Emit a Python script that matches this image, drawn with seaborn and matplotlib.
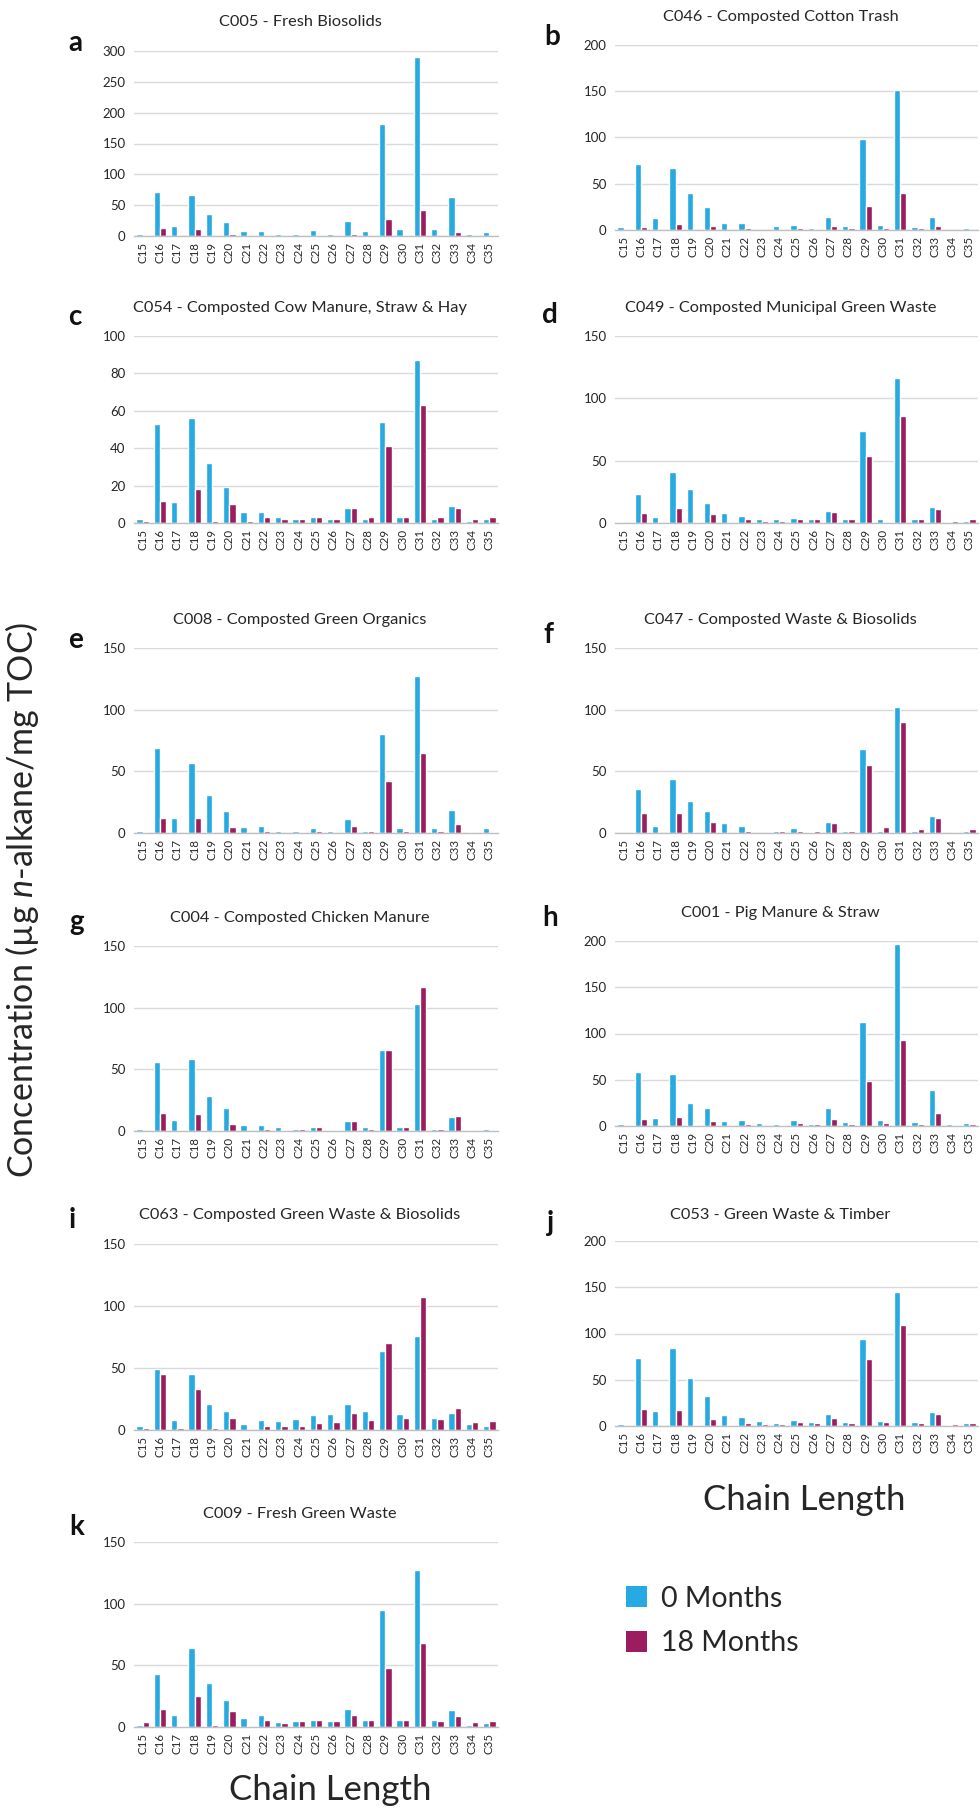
import matplotlib
matplotlib.use("Agg")
import matplotlib.pyplot as plt
import seaborn as sns
import pandas as pd
from matplotlib.patches import Patch

# ---------------- data ----------------
chains = [f"C{i}" for i in range(15, 36)]
periods = ["0 Months", "18 Months"]

a_0m = [4, 72, 16, 66, 35, 23, 8, 8, 4, 4, 9, 4, 25, 8, 182, 11, 290, 11, 63, 4, 6]
a_18m = [0, 13, 0, 11, 0, 3, 0, 0, 0, 0, 2, 0, 4, 0, 27, 2, 42, 0, 6, 0, 0]

b_0m = [3, 71, 13, 67, 40, 25, 8, 8, 0, 4, 5, 2, 14, 4, 98, 5, 151, 3, 14, 0, 2]
b_18m = [0, 3, 0, 7, 0, 4, 0, 2, 0, 0, 2, 0, 4, 2, 26, 2, 40, 2, 4, 0, 0]

c_0m = [2, 53, 11, 56, 32, 19, 6, 6, 3, 2, 3, 2, 8, 2, 54, 3, 87, 2, 9, 1, 2]
c_18m = [1, 12, 0, 18, 1, 10, 1, 3, 2, 2, 3, 2, 8, 3, 41, 3, 63, 3, 8, 2, 3]

d_0m = [1, 23, 5, 41, 27, 16, 8, 6, 3, 3, 4, 3, 10, 3, 74, 3, 116, 3, 13, 1, 2]
d_18m = [0, 8, 0, 12, 1, 7, 1, 3, 2, 2, 3, 3, 9, 3, 54, 1, 86, 3, 11, 2, 3]

e_0m = [2, 69, 12, 57, 31, 18, 5, 6, 2, 2, 4, 2, 11, 2, 80, 4, 127, 4, 19, 1, 4]
e_18m = [1, 12, 0, 12, 0, 5, 0, 2, 0, 1, 2, 0, 6, 2, 42, 2, 65, 2, 7, 1, 1]

f_0m = [0, 36, 6, 44, 26, 18, 8, 6, 0, 2, 4, 1, 9, 2, 68, 2, 102, 2, 14, 0, 2]
f_18m = [0, 16, 0, 16, 0, 9, 0, 2, 0, 2, 2, 2, 8, 2, 55, 5, 90, 3.5, 12, 1, 3]

g_0m = [2, 56, 9, 58, 28, 19, 5, 5, 3, 2, 3, 1, 8, 3, 66, 3, 103, 2, 11, 1, 2]
g_18m = [0, 15, 1, 14, 1, 6, 0, 2, 1, 2, 3, 1, 8, 2, 66, 3, 117, 2, 12, 1, 1]

h_0m = [2, 58, 9, 56, 25, 20, 5, 6, 3, 2, 6, 2, 20, 4, 112, 6, 197, 4, 39, 2, 3]
h_18m = [1, 8, 1, 10, 1, 5, 1, 2, 1, 1, 3, 2, 8, 2, 49, 3, 93, 2, 14, 1, 2]

i_0m = [3, 49, 8, 45, 21, 15, 4.5, 8, 7.5, 9, 12, 13, 21, 15, 64, 13, 76, 10, 14, 4.5, 3.5]
i_18m = [1.5, 45, 1.5, 33, 1.5, 10, 0, 3.5, 3, 3.5, 5.5, 6.5, 14, 8, 70, 10, 107, 9, 18, 6.5, 7]

j_0m = [2, 74, 16, 84, 52, 32, 12, 10, 5, 3, 6, 4, 13, 4, 94, 5, 145, 4, 15, 1, 3]
j_18m = [0, 18, 0, 17, 1, 8, 1, 3, 2, 2, 4, 3, 9, 3, 72, 4, 109, 3, 13, 2, 3]

k_0m = [2, 43, 10, 64, 36, 22, 7.5, 10, 4, 4.5, 6, 5, 15, 6, 95, 6, 127, 5.5, 14, 2, 3]
k_18m = [4, 15, 1, 25, 2, 13, 1, 5.5, 3, 4.5, 5.5, 5, 10, 5.5, 48, 5.5, 68, 5, 9, 4, 5]

titles = {
    "a": "C005 - Fresh Biosolids",
    "b": "C046 - Composted Cotton Trash",
    "c": "C054 - Composted Cow Manure, Straw & Hay",
    "d": "C049 - Composted Municipal Green Waste",
    "e": "C008 - Composted Green Organics",
    "f": "C047 - Composted Waste & Biosolids",
    "g": "C004 - Composted Chicken Manure",
    "h": "C001 - Pig Manure & Straw",
    "i": "C063 - Composted Green Waste & Biosolids",
    "j": "C053 - Green Waste & Timber",
    "k": "C009 - Fresh Green Waste",
}
series = {
    "a": (a_0m, a_18m), "b": (b_0m, b_18m), "c": (c_0m, c_18m), "d": (d_0m, d_18m),
    "e": (e_0m, e_18m), "f": (f_0m, f_18m), "g": (g_0m, g_18m), "h": (h_0m, h_18m),
    "i": (i_0m, i_18m), "j": (j_0m, j_18m), "k": (k_0m, k_18m),
}
y_max = {"a": 300, "b": 200, "c": 100, "d": 150, "e": 150, "f": 150,
         "g": 150, "h": 200, "i": 150, "j": 200, "k": 150}
y_step = {"a": 50, "b": 50, "c": 20, "d": 50, "e": 50, "f": 50,
          "g": 50, "h": 50, "i": 50, "j": 50, "k": 50}

# ---------------- layout (pixels) ----------------
W, H = 980, 1813
BLUE = "#27A9E1"
PURPLE = "#9B1D5F"
# (x_left, x_right, top, bottom, title_y, letter_x, letter_y)
layout = {
    "a": (134, 498, 51, 236, 22, 75, 43),
    "b": (615, 978, 45, 230, 17, 552, 37),
    "c": (134, 498, 336, 523, 308, 75, 317),
    "d": (615, 978, 336, 523, 308, 550, 315),
    "e": (134, 498, 648, 833, 620, 75, 640),
    "f": (615, 978, 648, 833, 620, 548, 635),
    "g": (134, 498, 946, 1131, 918, 77, 922),
    "h": (615, 978, 941, 1126, 913, 550, 918),
    "i": (134, 498, 1244, 1430, 1215, 72, 1220),
    "j": (615, 978, 1241, 1426, 1215, 550, 1223),
    "k": (134, 498, 1542, 1727, 1514, 77, 1527),
}

sns.set_style("white")
plt.rcParams["font.family"] = ["Lato", "DejaVu Sans"]
plt.rcParams["mathtext.fontset"] = "custom"
plt.rcParams["mathtext.it"] = "Lato:italic"
plt.rcParams["mathtext.rm"] = "Lato"

fig = plt.figure(figsize=(W / 100, H / 100), dpi=100)
TXT = "#262626"

for key, (xl, xr, top, bot, ty, lx, ly) in layout.items():
    v0, v18 = series[key]
    df = pd.DataFrame({
        "chain": chains * 2,
        "value": list(v0) + list(v18),
        "period": [periods[0]] * len(chains) + [periods[1]] * len(chains),
    })
    ax = fig.add_axes([xl / W, 1 - bot / H, (xr - xl) / W, (bot - top) / H])
    sns.barplot(data=df, x="chain", y="value", hue="period", hue_order=periods,
                palette=[BLUE, PURPLE], width=0.72, saturation=1, ax=ax,
                legend=False, errorbar=None)
    ymax = y_max[key]
    ax.set_ylim(0, ymax)
    ax.set_xlim(-0.5, len(chains) - 0.5)
    ticks = list(range(0, ymax + 1, y_step[key]))
    ax.set_yticks(ticks)
    ax.set_yticklabels([str(t) for t in ticks], fontsize=9.5, color=TXT)
    ax.yaxis.grid(True, color="#D9D9D9", linewidth=1)
    ax.set_axisbelow(True)
    for s in ["top", "right", "left"]:
        ax.spines[s].set_visible(False)
    ax.spines["bottom"].set_color("#BFBFBF")
    ax.spines["bottom"].set_linewidth(1)
    ax.tick_params(axis="both", length=0, pad=6)
    ax.tick_params(axis="x", pad=4)
    ax.set_xticks(range(len(chains)))
    ax.set_xticklabels(chains, rotation=90, fontsize=8.3, color=TXT)
    ax.set_xlabel("")
    ax.set_ylabel("")
    cx = (xl + xr) / 2 - 16
    fig.text(cx / W, 1 - ty / H, titles[key], ha="center", va="center",
             fontsize=11.8, color=TXT)
    fig.text(lx / W, 1 - ly / H, key, ha="center", va="center",
             fontsize=20, fontweight="bold", color="#111111")

# axis labels
fig.text(22 / W, 1 - 900 / H, "Concentration (µg $\\mathit{n}$-alkane/mg TOC)",
         rotation=90, ha="center", va="center", fontsize=24.5, color=TXT)
fig.text(330 / W, 1 - 1790 / H, "Chain Length", ha="center", va="center",
         fontsize=25, color=TXT)
fig.text(804 / W, 1 - 1500 / H, "Chain Length", ha="center", va="center",
         fontsize=25, color=TXT)

handles = [Patch(facecolor=BLUE, edgecolor="none"),
           Patch(facecolor=PURPLE, edgecolor="none")]
fig.legend(handles, periods, loc="upper left",
           bbox_to_anchor=(600 / W, 1 - 1560 / H), frameon=False,
           fontsize=20.5, handlelength=0.75, handleheight=0.75,
           handletextpad=0.5, labelspacing=0.65, labelcolor=TXT)

fig.savefig("out.png", dpi=100)
